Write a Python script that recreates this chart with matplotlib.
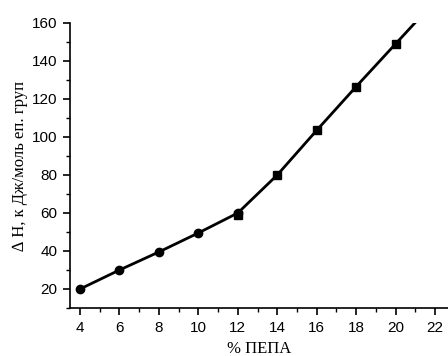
import matplotlib
matplotlib.use("Agg")
import matplotlib.pyplot as plt
from matplotlib.ticker import MultipleLocator

# data
x_circ = [4, 6, 8, 10, 12]
y_circ = [20, 30, 39.5, 49.5, 60]
x_sq = [12, 14, 16, 18, 20, 22]
y_sq = [59, 80, 103.5, 126.5, 149, 171.5]
x_line = [4, 6, 8, 10, 12, 14, 16, 18, 20, 22]
y_line = [20, 30, 39.5, 49.5, 60, 80, 103.5, 126.5, 149, 171.5]

fig = plt.figure(figsize=(4.48, 3.56), dpi=100)
ax = fig.add_axes([70 / 448, 1 - 308 / 356, 1 - 70 / 448, (308 - 23) / 356])

ax.plot(x_line, y_line, color="black", lw=2)
ax.plot(x_circ, y_circ, "o", color="black", ms=6)
ax.plot(x_sq, y_sq, "s", color="black", ms=6)

ax.set_xlim(3.49, 22.66)
ax.set_ylim(10, 160)
ax.xaxis.set_major_locator(MultipleLocator(2))
ax.xaxis.set_minor_locator(MultipleLocator(1))
ax.yaxis.set_major_locator(MultipleLocator(20))
ax.yaxis.set_minor_locator(MultipleLocator(10))
ax.set_yticks(range(20, 161, 20))

for side in ["top", "right"]:
    ax.spines[side].set_visible(False)
for side in ["left", "bottom"]:
    ax.spines[side].set_linewidth(1.2)

ax.tick_params(which="major", direction="out", length=5, width=1.2,
               labelsize=11, pad=4)
ax.tick_params(which="minor", direction="out", length=3, width=1)
for lab in ax.get_xticklabels() + ax.get_yticklabels():
    lab.set_fontfamily("Liberation Sans")

ax.set_xlabel("% ПЕПА", fontsize=12, family="Liberation Serif", labelpad=5)
ax.set_ylabel("∆ H, к Дж/моль еп. груп", fontsize=12,
              family=["Liberation Serif", "DejaVu Sans"], labelpad=3)

plt.savefig("out.png", dpi=100)
